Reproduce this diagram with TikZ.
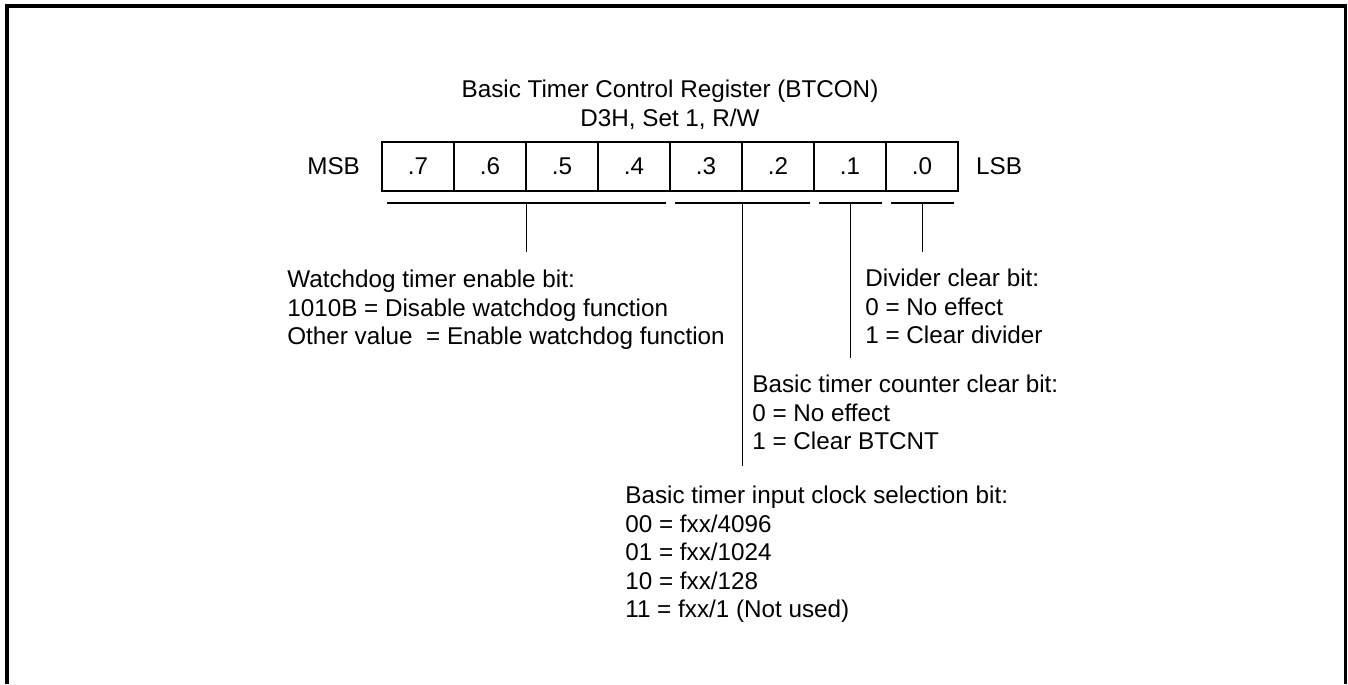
\documentclass[tikz,border=0pt]{standalone}
\usepackage{fontspec}
\setmainfont{Liberation Sans}
\usepackage{xcolor}
\usepackage{tikz}
\usetikzlibrary{calc}
\definecolor{regInk}{HTML}{000000}
\tikzset{
  bitcell/.style={rectangle, draw=regInk, line width=0.9pt, minimum width=1.44cm, minimum height=0.98cm, inner sep=0pt},
  sidelabel/.style={text=regInk, inner sep=0pt},
  desctext/.style={align=left, anchor=north west, text=regInk, inner sep=0pt},
  fieldline/.style={line width=0.9pt, draw=regInk},
  % --- outer frame, open at the bottom ---
  outerframe/.style={line width=1.9pt, draw=regInk},
}

\begin{document}
\begin{tikzpicture}[x=0.02cm,y=-0.02cm,font=\fontsize{13.8}{16.2}\selectfont]
  \useasboundingbox (0,0) rectangle (1348,684);
  \draw[outerframe] (7,684) -- (7,6) -- (1345.5,6) -- (1345.5,684);

  \node[align=center, anchor=north, inner sep=0pt] (title) at (670,80) {Basic Timer Control Register (BTCON)\\D3H, Set 1, R/W};

  \node[bitcell] (c7) at (418,166.5) {.7};
  \node[bitcell] (c6) at (490,166.5) {.6};
  \node[bitcell] (c5) at (562,166.5) {.5};
  \node[bitcell] (c4) at (634,166.5) {.4};
  \node[bitcell] (c3) at (706,166.5) {.3};
  \node[bitcell] (c2) at (778,166.5) {.2};
  \node[bitcell] (c1) at (850,166.5) {.1};
  \node[bitcell] (c0) at (922,166.5) {.0};

  \node[sidelabel, anchor=east] (msb) at ($(c7.west)+(-21,0)$) {MSB};
  \node[sidelabel, anchor=west] (lsb) at ($(c0.east)+(17,0)$) {LSB};

  \node[desctext] (wdgtext) at (287,270) {Watchdog timer enable bit:\\1010B = Disable watchdog function\\Other value\ \ = Enable watchdog function};
  \node[desctext] (divtext) at (865,269) {Divider clear bit:\\0 = No effect\\1 = Clear divider};
  \node[desctext] (cnttext) at (752,375) {Basic timer counter clear bit:\\0 = No effect\\ 1 = Clear BTCNT};
  \node[desctext] (clktext) at (625,486) {Basic timer input clock selection bit:\\ 00 = fxx/4096\\ 01 = fxx/1024\\ 10 = fxx/128\\ 11 = fxx/1 (Not used)};

  % field brackets under the register
  \coordinate (wdgL) at ($(c7.south west)+(6,11)$);
  \coordinate (wdgR) at ($(c4.south east)+(-5,11)$);
  \coordinate (clkL) at ($(c3.south west)+(6,11)$);
  \coordinate (clkR) at ($(c2.south east)+(-5,11)$);
  \coordinate (cntL) at ($(c1.south west)+(6,11)$);
  \coordinate (cntR) at ($(c1.south east)+(-5,11)$);
  \coordinate (divL) at ($(c0.south west)+(6,11)$);
  \coordinate (divR) at ($(c0.south east)+(-5,11)$);

  \coordinate (wdgM) at ($(wdgL)!0.5!(wdgR)$);
  \coordinate (clkM) at ($(clkL)!0.5!(clkR)$);
  \coordinate (cntM) at ($(cntL)!0.5!(cntR)$);
  \coordinate (divM) at ($(divL)!0.5!(divR)$);

  \coordinate (wdgE) at ($(wdgM |- wdgtext.north)+(0,-18)$);
  \coordinate (clkE) at ($(clkM |- clktext.north)+(0,-20)$);
  \coordinate (cntE) at ($(cntM |- cnttext.north)+(0,-17)$);
  \coordinate (divE) at ($(divM |- divtext.north)+(0,-17)$);

  \draw[fieldline] (wdgL) -- (wdgR);
  \draw[fieldline] (clkL) -- (clkR);
  \draw[fieldline] (cntL) -- (cntR);
  \draw[fieldline] (divL) -- (divR);

  \draw[fieldline] (wdgM) -- (wdgE);
  \draw[fieldline] (clkM) -- (clkE);
  \draw[fieldline] (cntM) -- (cntE);
  \draw[fieldline] (divM) -- (divE);
\end{tikzpicture}
\end{document}
